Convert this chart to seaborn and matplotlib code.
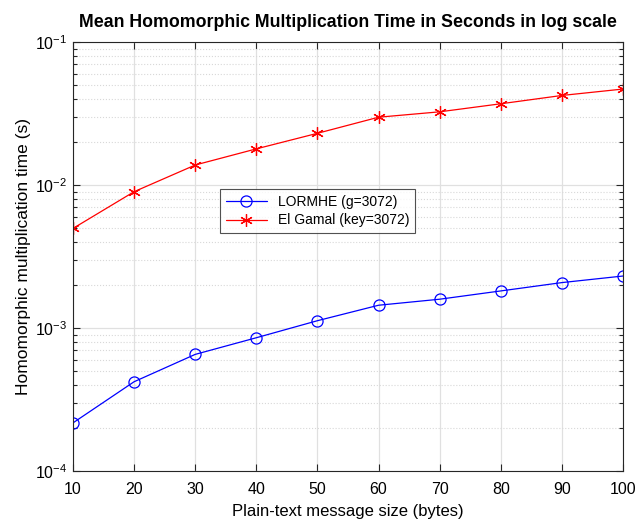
import numpy as np
import pandas as pd
import seaborn as sns
import matplotlib.pyplot as plt
from matplotlib.ticker import LogLocator, NullFormatter

sizes = [10, 20, 30, 40, 50, 60, 70, 80, 90, 100]
lormhe = [0.000217, 0.000421, 0.000654, 0.000855, 0.001125, 0.001443, 0.00159, 0.001817, 0.002078, 0.00231]
elgamal = [0.00497, 0.00898, 0.0138, 0.0179, 0.0230, 0.0298, 0.0325, 0.0370, 0.0423, 0.0469]
names = ['LORMHE (g=3072)', 'El Gamal (key=3072)']

sns.set_style("ticks")
plt.rcParams['font.family'] = ['Liberation Sans', 'DejaVu Sans']
plt.rcParams['mathtext.fontset'] = 'custom'
plt.rcParams['mathtext.rm'] = 'Liberation Sans'
plt.rcParams['text.color'] = 'black'
plt.rcParams['axes.labelcolor'] = 'black'
plt.rcParams['xtick.labelcolor'] = 'black'
plt.rcParams['ytick.labelcolor'] = 'black'

fig = plt.figure(figsize=(6.43, 5.22), dpi=100)
ax = fig.add_axes([0.1135, 0.0977, 0.8555, 0.8218])

df1 = pd.DataFrame({'size': sizes, 'time': lormhe})
df2 = pd.DataFrame({'size': sizes, 'time': elgamal})
sns.lineplot(data=df1, x='size', y='time', ax=ax, color='blue', lw=0.9,
             marker='o', markersize=8, markerfacecolor='none', markeredgecolor='blue',
             markeredgewidth=0.9, label=names[0])
sns.lineplot(data=df2, x='size', y='time', ax=ax, color='red', lw=0.9,
             marker=(6, 2, 0), markersize=9, markeredgecolor='red',
             markeredgewidth=0.9, label=names[1])

ax.set_yscale('log')
ax.set_ylim(1e-4, 1e-1)
ax.set_xlim(10, 100)
ax.set_xticks(sizes)
ax.yaxis.set_major_locator(LogLocator(base=10, numticks=10))
ax.yaxis.set_minor_locator(LogLocator(base=10, subs=np.arange(2, 10), numticks=10))
ax.yaxis.set_minor_formatter(NullFormatter())

ax.grid(True, which='major', color='#e0e0e0', lw=0.9, ls='-')
ax.grid(True, which='minor', axis='y', color='#d8d8d8', lw=0.8, ls=':')
ax.set_axisbelow(True)
ax.tick_params(which='both', direction='in', top=True, right=True, labelsize=11.5,
               color='#262626', width=0.8)
ax.tick_params(which='major', length=5)
ax.tick_params(which='minor', length=3)
ax.tick_params(axis='x', which='major', pad=8)
ax.tick_params(axis='y', which='major', pad=4)
for s in ax.spines.values():
    s.set_visible(True)
    s.set_color('#262626')
    s.set_linewidth(0.8)

ax.set_title('Mean Homomorphic Multiplication Time in Seconds in log scale',
             fontsize=12.8, fontweight='bold', pad=11)
ax.set_xlabel('Plain-text message size (bytes)', fontsize=12, labelpad=5)
ax.set_ylabel('Homomorphic multiplication time (s)', fontsize=12.5, labelpad=3)

leg = ax.legend(loc='center', bbox_to_anchor=(0.445, 0.606), fontsize=10,
                frameon=True, fancybox=False, edgecolor='#262626',
                handlelength=3.0, borderpad=0.4, labelspacing=0.35)
leg.get_frame().set_linewidth(0.8)

plt.savefig('out.png', dpi=100)
